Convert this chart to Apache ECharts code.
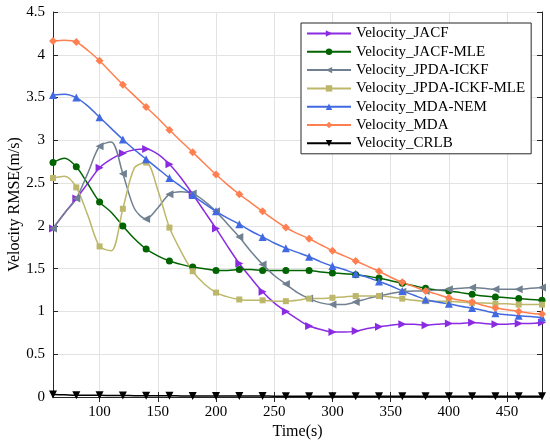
<!DOCTYPE html>
<html>
<head>
<meta charset="utf-8">
<script src="https://cdn.jsdelivr.net/npm/echarts@6/dist/echarts.min.js"></script>
<style>
  html, body { margin: 0; padding: 0; background: #fff; }
  #chart { width: 550px; height: 446px; }
</style>
</head>
<body>
<div id="chart"></div>
<script>
// 时间轴 (s)
const times = [60, 70, 80, 90, 100, 110, 120, 130, 140, 150, 160, 170, 180, 190, 200, 210, 220, 230, 240, 250,
  260, 270, 280, 290, 300, 310, 320, 330, 340, 350, 360, 370, 380, 390, 400, 410, 420, 430, 440, 450, 460, 470, 480];
const xTicks = [100, 150, 200, 250, 300, 350, 400, 450];

// 各方法速度 RMSE (m/s)
const jacf = [1.97, 2.15, 2.32, 2.50, 2.68, 2.78, 2.85, 2.89, 2.90, 2.84, 2.72, 2.56, 2.37, 2.17, 1.97, 1.76, 1.56, 1.39, 1.23, 1.10,
  1.00, 0.91, 0.83, 0.79, 0.76, 0.76, 0.77, 0.80, 0.82, 0.84, 0.85, 0.85, 0.84, 0.85, 0.86, 0.86, 0.87, 0.86, 0.85, 0.85, 0.86, 0.86, 0.87];
const jacfMle = [2.74, 2.79, 2.69, 2.49, 2.28, 2.16, 2.00, 1.85, 1.73, 1.65, 1.59, 1.55, 1.52, 1.50, 1.48, 1.48, 1.49, 1.49, 1.48, 1.48,
  1.48, 1.48, 1.48, 1.46, 1.45, 1.44, 1.43, 1.41, 1.39, 1.36, 1.33, 1.30, 1.27, 1.25, 1.24, 1.22, 1.20, 1.18, 1.17, 1.16, 1.15, 1.14, 1.13];
const jpdaIckf = [1.97, 2.15, 2.32, 2.62, 2.93, 2.98, 2.61, 2.20, 2.08, 2.21, 2.37, 2.40, 2.38, 2.29, 2.17, 2.02, 1.87, 1.70, 1.55, 1.42,
  1.32, 1.22, 1.15, 1.10, 1.08, 1.08, 1.11, 1.15, 1.18, 1.21, 1.23, 1.24, 1.24, 1.25, 1.26, 1.27, 1.28, 1.27, 1.26, 1.26, 1.26, 1.27, 1.28];
const jpdaIckfMle = [2.56, 2.58, 2.45, 2.12, 1.76, 1.71, 2.20, 2.68, 2.74, 2.42, 1.98, 1.70, 1.47, 1.32, 1.22, 1.17, 1.14, 1.13, 1.13, 1.12,
  1.12, 1.13, 1.15, 1.15, 1.16, 1.17, 1.18, 1.18, 1.18, 1.17, 1.15, 1.13, 1.12, 1.12, 1.12, 1.11, 1.10, 1.10, 1.09, 1.09, 1.08, 1.08, 1.08];
const mdaNem = [3.53, 3.54, 3.50, 3.40, 3.27, 3.14, 3.01, 2.89, 2.78, 2.67, 2.56, 2.46, 2.36, 2.26, 2.17, 2.09, 2.02, 1.94, 1.87, 1.80,
  1.74, 1.69, 1.64, 1.58, 1.53, 1.49, 1.44, 1.40, 1.35, 1.30, 1.24, 1.19, 1.14, 1.11, 1.09, 1.06, 1.04, 1.01, 0.98, 0.96, 0.95, 0.94, 0.93];
const mda = [4.16, 4.17, 4.15, 4.05, 3.93, 3.79, 3.65, 3.52, 3.39, 3.26, 3.12, 2.99, 2.86, 2.73, 2.60, 2.48, 2.37, 2.27, 2.17, 2.07,
  1.98, 1.91, 1.85, 1.78, 1.71, 1.65, 1.59, 1.53, 1.47, 1.40, 1.34, 1.29, 1.24, 1.20, 1.16, 1.13, 1.11, 1.07, 1.04, 1.02, 1.00, 0.98, 0.97];
const crlb = [0.03, 0.025, 0.02, 0.02, 0.02, 0.018, 0.017, 0.016, 0.015, 0.015, 0.014, 0.013, 0.013, 0.012, 0.012, 0.012, 0.011, 0.011, 0.011, 0.01,
  0.01, 0.01, 0.01, 0.01, 0.01, 0.01, 0.01, 0.01, 0.01, 0.01, 0.01, 0.01, 0.01, 0.01, 0.01, 0.01, 0.01, 0.01, 0.01, 0.01, 0.01, 0.01, 0.01];

const FONT = 'Liberation Serif';
const AXIS_COLOR = '#262626';

// 每 20 s 显示一个标记，其余点只画线
const toData = (values) => times.map((t, i) =>
  t % 20 === 0 ? [t, values[i]] : { value: [t, values[i]], symbol: 'none' });

const makeSeries = (name, values, color, symbol, size) => ({
  name,
  type: 'line',
  data: toData(values),
  smooth: 0.3,
  symbol,
  symbolSize: size,
  showAllSymbol: true,
  lineStyle: { color, width: 1.5 },
  itemStyle: { color, borderWidth: 0 },
  emphasis: { disabled: true }
});

const series = [
  makeSeries('Velocity_JACF', jacf, '#8a2be2', 'path://M0,0L10,5L0,10Z', 8),
  makeSeries('Velocity_JACF-MLE', jacfMle, '#006400', 'circle', 7),
  makeSeries('Velocity_JPDA-ICKF', jpdaIckf, '#708090', 'path://M10,0L0,5L10,10Z', 8),
  makeSeries('Velocity_JPDA-ICKF-MLE', jpdaIckfMle, '#bdb76b', 'rect', 6),
  makeSeries('Velocity_MDA-NEM', mdaNem, '#4169e1', 'triangle', 8),
  makeSeries('Velocity_MDA', mda, '#ff7f50', 'diamond', 8),
  makeSeries('Velocity_CRLB', crlb, '#000000', 'path://M0,0L10,0L5,10Z', 8)
];

const chart = echarts.init(document.getElementById('chart'), null, { renderer: 'canvas' });

const tickStyle = { inside: true, length: 5, lineStyle: { color: AXIS_COLOR } };

chart.setOption({
  animation: false,
  backgroundColor: '#fff',
  grid: { left: 53, right: 8, top: 12, bottom: 49, outerBoundsMode: 'none' },
  legend: {
    orient: 'vertical',
    left: 301,
    top: 23,
    padding: [3, 6, 3, 5],
    itemWidth: 44,
    itemHeight: 8,
    itemGap: 3.3,
    borderColor: AXIS_COLOR,
    borderWidth: 1,
    backgroundColor: '#fff',
    textStyle: { fontFamily: FONT, fontSize: 15, lineHeight: 15, color: '#000' }
  },
  xAxis: [
    {
      type: 'value',
      min: 60,
      max: 480,
      name: 'Time(s)',
      nameLocation: 'middle',
      nameGap: 27,
      nameMoveOverlap: false,
      nameTextStyle: { fontFamily: FONT, fontSize: 16, color: '#000' },
      axisLine: { lineStyle: { color: AXIS_COLOR } },
      axisTick: { ...tickStyle, customValues: xTicks },
      axisLabel: { customValues: xTicks, fontFamily: FONT, fontSize: 15, color: '#000', margin: 8 },
      splitLine: { show: true, lineStyle: { color: '#e3e3e3' } }
    },
    {
      type: 'value',
      position: 'top',
      min: 60,
      max: 480,
      axisLine: { lineStyle: { color: AXIS_COLOR } },
      axisTick: { ...tickStyle, customValues: xTicks },
      axisLabel: { show: false },
      splitLine: { show: false }
    }
  ],
  yAxis: [
    {
      type: 'value',
      min: 0,
      max: 4.5,
      interval: 0.5,
      name: 'Velocity RMSE(m/s)',
      nameLocation: 'middle',
      nameGap: 30,
      nameMoveOverlap: false,
      nameTextStyle: { fontFamily: FONT, fontSize: 16, color: '#000' },
      axisLine: { show: true, lineStyle: { color: AXIS_COLOR } },
      axisTick: { show: true, ...tickStyle },
      axisLabel: { fontFamily: FONT, fontSize: 15, color: '#000', margin: 8 },
      splitLine: { show: true, lineStyle: { color: '#e3e3e3' } }
    },
    {
      type: 'value',
      position: 'right',
      min: 0,
      max: 4.5,
      interval: 0.5,
      axisLine: { show: true, lineStyle: { color: AXIS_COLOR } },
      axisTick: { show: true, ...tickStyle },
      axisLabel: { show: false },
      splitLine: { show: false }
    }
  ],
  series
});
</script>
</body>
</html>
